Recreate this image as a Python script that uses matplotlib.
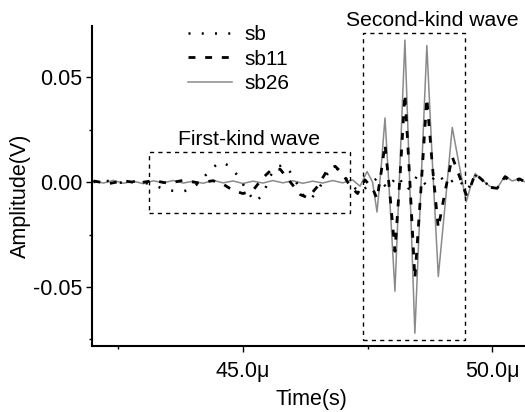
import matplotlib
matplotlib.use("Agg")
import matplotlib.pyplot as plt
from matplotlib.patches import Rectangle
from matplotlib.ticker import FixedLocator, FuncFormatter

plt.rcParams['font.family'] = ['Liberation Sans', 'DejaVu Sans']
plt.rcParams['font.size'] = 15

# time in microseconds, amplitude in volts
t_sb = [42.0, 42.3, 42.6, 42.9, 43.2, 43.5, 43.8, 44.0, 44.2, 44.4, 44.55, 44.7,
        44.9, 45.1, 45.25, 45.4, 45.55, 45.7, 45.85, 46.0, 46.2, 46.35, 46.5,
        46.7, 46.85, 47.0, 47.15, 47.35, 47.5, 47.7, 47.9, 48.1, 48.3, 48.5,
        48.7, 48.9, 49.1, 49.3, 49.5, 49.66, 49.8, 49.95, 50.1, 50.26, 50.4,
        50.55, 50.66]
v_sb = [0.0, 0.0005, -0.0005, 0.0005, -0.0015, -0.004, -0.0045, -0.003, 0.002,
        0.007, 0.0095, 0.008, 0.003, -0.005, -0.0095, -0.006, 0.003, 0.0075,
        0.008, 0.003, -0.006, -0.0085, -0.004, 0.004, 0.007, 0.004, -0.001,
        -0.005, -0.002, 0.002, -0.003, 0.003, -0.004, 0.003, -0.002, 0.004,
        -0.001, 0.002, -0.004, 0.003, 0.001, -0.002, -0.003, 0.002, 0.0, 0.001,
        0.0]

t_sb11 = [42.0, 42.3, 42.6, 42.9, 43.2, 43.5, 43.8, 44.1, 44.4, 44.6, 44.8, 45.0,
          45.2, 45.4, 45.6, 45.75, 45.95, 46.15, 46.3, 46.5, 46.7, 46.85, 47.0,
          47.15, 47.3, 47.45, 47.6, 47.69, 47.77, 47.85, 47.95, 48.05, 48.15,
          48.25, 48.35, 48.45, 48.57, 48.69, 48.8, 48.92, 49.06, 49.2, 49.34,
          49.48, 49.57, 49.66, 49.8, 49.95, 50.1, 50.26, 50.4, 50.55, 50.66]
v_sb11 = [0.0005, -0.0008, 0.0006, -0.0005, 0.0007, -0.0006, 0.0008, -0.0004,
          0.0006, -0.001, -0.004, -0.0055, -0.004, 0.002, 0.0065, 0.006, 0.0,
          -0.006, -0.0075, -0.002, 0.006, 0.0075, 0.004, -0.002, -0.0055, 0.001,
          -0.003, -0.008, 0.004, 0.018, -0.006, -0.033, 0.002, 0.042, 0.0,
          -0.046, -0.004, 0.040, 0.008, -0.022, -0.004, 0.012, 0.003, -0.006,
          -0.002, 0.004, 0.001, -0.0025, -0.003, 0.0025, 0.0005, 0.0015, 0.0]

t_sb26 = [42.0, 42.2, 42.4, 42.6, 42.8, 43.0, 43.2, 43.4, 43.6, 43.8, 44.0, 44.2,
          44.4, 44.6, 44.8, 45.0, 45.2, 45.4, 45.6, 45.8, 46.0, 46.2, 46.4,
          46.6, 46.8, 47.0, 47.2, 47.35, 47.49, 47.6, 47.69, 47.77, 47.85,
          47.95, 48.05, 48.15, 48.25, 48.35, 48.45, 48.57, 48.69, 48.8, 48.92,
          49.06, 49.2, 49.34, 49.48, 49.57, 49.66, 49.8, 49.95, 50.1, 50.26,
          50.4, 50.55, 50.66]
v_sb26 = [0.0005, -0.0005, 0.0008, -0.0006, 0.0004, -0.0008, 0.0006, -0.0004,
          0.0007, -0.0005, 0.0004, -0.0006, 0.0008, -0.0004, 0.0005, -0.0007,
          0.0004, -0.0005, 0.0007, -0.0004, 0.0006, -0.0006, 0.0004, -0.0005,
          0.0007, -0.0004, 0.001, -0.002, 0.005, 0.0, -0.0143, 0.006, 0.0305,
          -0.01, -0.052, 0.008, 0.0676, -0.003, -0.072, -0.003, 0.065, 0.01,
          -0.045, -0.01, 0.026, 0.008, -0.0095, -0.002, 0.004, 0.001, -0.002,
          -0.003, 0.003, 0.0005, 0.0015, 0.0]

# dashed boxes around the two wave groups: (t0, t1, v0, v1)
first_box = (43.11, 47.15, -0.0148, 0.0143)
second_box = (47.41, 49.46, -0.0752, 0.071)

fig = plt.figure(figsize=(5.25, 4.12), dpi=100)
ax = fig.add_axes([92 / 525, 66 / 412, 433 / 525, 320 / 412])

ax.plot(t_sb26, v_sb26, color='#8a8a8a', lw=1.1, label='sb26', zorder=2)
ax.plot(t_sb11, v_sb11, color='black', lw=2.0, ls=(0, (2.5, 3.5)), label='sb11', zorder=3)
ax.plot(t_sb, v_sb, color='black', lw=1.8, ls=(0, (0.8, 4.5)), label='sb', zorder=4)

for t0, t1, v0, v1 in (first_box, second_box):
    ax.add_patch(Rectangle((t0, v0), t1 - t0, v1 - v0, fill=False,
                           ec='black', lw=1.0, ls=(0, (3, 3)), zorder=5, clip_on=False))

ax.text((first_box[0] + first_box[1]) / 2, first_box[3] + 0.0015, 'First-kind wave',
        ha='center', va='bottom', fontsize=15.2)
ax.text(48.8, second_box[3] + 0.0015, 'Second-kind wave', ha='center', va='bottom',
        fontsize=15.2, clip_on=False)

ax.set_xlim(41.97, 50.66)
ax.set_ylim(-0.0781, 0.0743)

ax.spines['top'].set_visible(False)
ax.spines['right'].set_visible(False)
ax.spines['left'].set_linewidth(1.5)
ax.spines['bottom'].set_linewidth(1.5)

ax.xaxis.set_major_locator(FixedLocator([45.0, 50.0]))
ax.xaxis.set_minor_locator(FixedLocator([42.5, 47.5]))
ax.xaxis.set_major_formatter(FuncFormatter(lambda x, p: '{:.1f}\u03bc'.format(x)))
ax.yaxis.set_major_locator(FixedLocator([-0.05, 0.0, 0.05]))
ax.yaxis.set_minor_locator(FixedLocator([-0.075, -0.025, 0.025]))
ax.yaxis.set_major_formatter(FuncFormatter(lambda y, p: '{:.2f}'.format(y)))
ax.tick_params(which='major', direction='out', length=4, width=1, labelsize=15.5)
ax.tick_params(which='minor', direction='out', length=2.5, width=1)
ax.tick_params(axis='x', pad=7)
ax.tick_params(axis='y', pad=3)

ax.set_xlabel('Time(s)', fontsize=15.5)
ax.set_ylabel('Amplitude(V)', fontsize=15.5)
ax.xaxis.set_label_coords(0.506, -0.135)
ax.yaxis.set_label_coords(-0.14, 0.47)

handles, labels = ax.get_legend_handles_labels()
order = [2, 1, 0]
ax.legend([handles[i] for i in order], [labels[i] for i in order],
          loc='upper left', bbox_to_anchor=(188 / 525, 1 - 25 / 412),
          bbox_transform=fig.transFigure, frameon=False, fontsize=15,
          handlelength=2.1, handletextpad=0.6, labelspacing=0.27,
          borderpad=0, borderaxespad=0)

fig.savefig('out.png', dpi=100)
